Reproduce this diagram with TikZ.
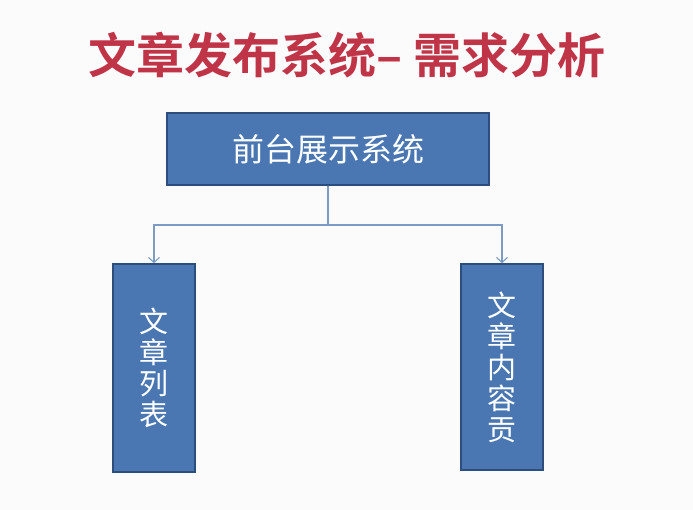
\documentclass[tikz,border=0pt]{standalone}
\usepackage{fontspec}
\newfontfamily\cjk{Noto Sans CJK SC}
\newfontfamily\cjkbold{Noto Sans CJK SC Bold}
\usetikzlibrary{arrows.meta}
\definecolor{pagebg}{RGB}{251,251,251}
\definecolor{titlered}{RGB}{192,52,72}
\definecolor{boxfill}{RGB}{74,118,178}
\definecolor{boxline}{RGB}{45,78,125}
\definecolor{linkblue}{RGB}{125,155,195}
\tikzset{
  sysbox/.style={draw=boxline, line width=1.6pt, fill=boxfill, text=white,
    inner sep=0pt, font=\cjk\fontsize{29}{31}\selectfont},
  link/.style={draw=linkblue, line width=1.2pt},
  linkarrow/.style={link, -{Straight Barb[length=5pt,width=11pt,line width=1.1pt]}}
}
\begin{document}
\begin{tikzpicture}[x=1pt,y=-1pt]
  \fill[pagebg] (0,0) rectangle (693,510);
  \useasboundingbox (0,0) rectangle (693,510);

  % heading
  \node[text=titlered, font=\cjkbold\fontsize{48}{50}\selectfont] (title) at (347,55)
    {文章发布系统– 需求分析};

  % system boxes
  \node[sysbox, minimum width=322pt, minimum height=72pt,
        font=\cjk\fontsize{32}{34}\selectfont] (front) at (328,149) {前台展示系统};
  \node[sysbox, minimum width=82pt, minimum height=208pt, align=center] (list) at (154,368)
    {文\\章\\列\\表};
  \node[sysbox, minimum width=82pt, minimum height=206pt, align=center] (page) at (502,367)
    {文\\章\\内\\容\\贡};

  % connectors
  \coordinate (split) at (328,225);
  \draw[link] (front.south) -- (split);
  \draw[linkarrow] (split) -| (list.north);
  \draw[linkarrow] (split) -| (page.north);
\end{tikzpicture}
\end{document}
